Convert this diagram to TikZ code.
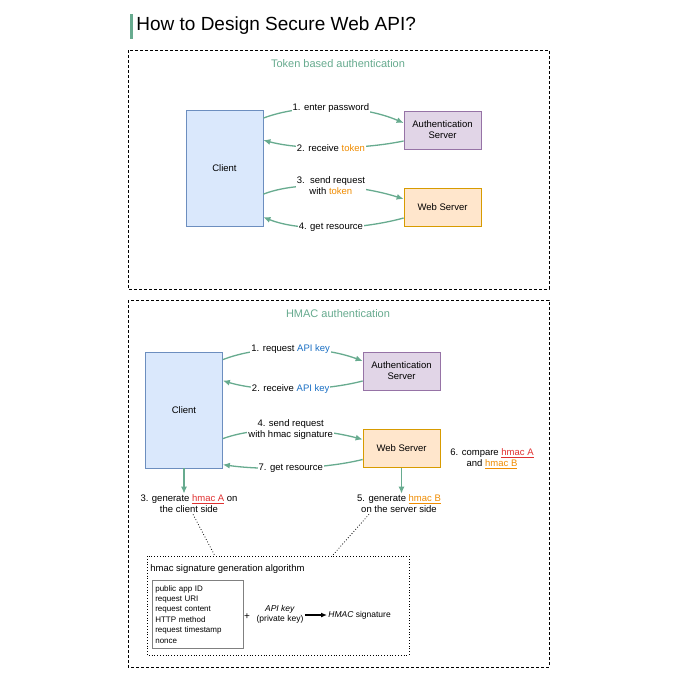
\documentclass[tikz,border=0pt]{standalone}
\usepackage{fontspec}
\setmainfont{Liberation Sans}
\usetikzlibrary{positioning,arrows.meta}
\definecolor{arrowgreen}{RGB}{103,171,143}
\definecolor{tokorange}{RGB}{240,140,0}
\definecolor{keyblue}{RGB}{26,111,196}
\definecolor{hmacred}{RGB}{224,48,48}
\tikzset{every picture/.style={line width=0.75pt},
  lbl/.style={font=\fontsize{9.5}{11}\selectfont, align=center, fill=white, inner sep=1pt},
  flow/.style={draw=arrowgreen, line width=1.3pt, -{Latex[length=7pt,width=6pt]}},
  client/.style={draw={rgb,255:red,108;green,142;blue,191}, fill={rgb,255:red,218;green,232;blue,252}, minimum width=77pt, minimum height=116pt, font=\fontsize{9.5}{11}\selectfont},
  authsrv/.style={draw={rgb,255:red,150;green,115;blue,166}, fill={rgb,255:red,225;green,213;blue,231}, minimum width=77pt, minimum height=38pt, align=center, font=\fontsize{9.5}{11}\selectfont},
  websrv/.style={draw={rgb,255:red,215;green,155;blue,0}, fill={rgb,255:red,255;green,230;blue,204}, minimum width=77pt, minimum height=38pt, font=\fontsize{9.5}{11}\selectfont},
  frame/.style={draw, dash pattern={on 3pt off 2pt}, line width=1pt}}
\newcommand{\tok}{\textcolor{tokorange}{token}}
\newcommand{\apik}{\textcolor{keyblue}{API key}}
\newcommand{\hA}{\textcolor{hmacred}{\underline{hmac A}}}
\newcommand{\hB}{\textcolor{tokorange}{\underline{hmac B}}}
\begin{document}
\begin{tikzpicture}[x=1pt,y=1pt,yscale=-1]
\useasboundingbox[fill=white] (0,0) rectangle (680,680);

%Title
\draw [arrowgreen, line width=3pt] (131,14) -- (131,39);
\node [anchor=west, font=\fontsize{19}{22}\selectfont, inner sep=0] (title) at (136,26) {How to Design Secure Web API?};

%Token based authentication
\draw [frame] (128,50) rectangle (549,289);
\node [text=arrowgreen, font=\fontsize{11}{13}\selectfont] (tktitle) at (338,64) {Token based authentication};
\node [client] (cl1) at (224.5,168.5) {Client};
\node [authsrv] (as1) at (442.5,130) {Authentication\\Server};
\node [websrv] (ws1) at (442.5,207) {Web Server};

\draw [flow] ([yshift=8]cl1.north east) .. controls (300,104) and (360,104) .. node[lbl]{1. enter password} ([yshift=-7]as1.west);
\draw [flow] ([yshift=11]as1.west) .. controls (360,150) and (300,150) .. node[lbl]{2. receive \tok} ([yshift=30]cl1.north east);
\draw [flow] ([yshift=84]cl1.north east) .. controls (300,180) and (360,185) .. node[lbl]{3.\ \ send request\\with \tok} ([yshift=-8]ws1.west);
\draw [flow] ([yshift=11]ws1.west) .. controls (360,230) and (300,232) .. node[lbl]{4. get resource} ([yshift=107]cl1.north east);

%HMAC authentication
\draw [frame] (128,300) rectangle (549,667);
\node [text=arrowgreen, font=\fontsize{11}{13}\selectfont] (hmtitle) at (338,314) {HMAC authentication};
\node [client] (cl2) at (184,410) {Client};
\node [authsrv] (as2) at (401.5,371) {Authentication\\Server};
\node [websrv] (ws2) at (401.5,448.5) {Web Server};

\draw [flow] ([yshift=8]cl2.north east) .. controls (260,345) and (320,345) .. node[lbl]{1. request \apik} ([yshift=-10]as2.west);
\draw [flow] ([yshift=10]as2.west) .. controls (320,392) and (260,392) .. node[lbl]{2. receive \apik} ([yshift=29]cl2.north east);
\draw [flow] ([yshift=87]cl2.north east) .. controls (260,425) and (320,428) .. node[lbl]{4. send request\\with hmac signature} ([yshift=-9]ws2.west);
\draw [flow] ([yshift=11]ws2.west) .. controls (320,470) and (260,470) .. node[lbl]{7. get resource} ([yshift=113]cl2.north east);
\node [lbl] (cmp) at (492,459) {6. compare \hA\\and \hB};

\node [lbl] (gen1) at (189,504) {3. generate \hA{} on\\the client side};
\node [lbl] (gen2) at (399,504) {5. generate \hB\\on the server side};
\draw [flow] (cl2.south) -- (gen1.north -| cl2.south);
\draw [flow] (ws2.south) -- (gen2.north -| ws2.south);

%hmac signature generation algorithm
\draw [dotted, line width=0.8pt] (147,556) rectangle (409,655);
\draw [dotted, line width=0.8pt] ([xshift=4]gen1.south) -- (215,556);
\draw [dotted, line width=0.8pt] ([xshift=-30]gen2.south) -- (332,556);
\node [anchor=west, font=\fontsize{9.5}{11}\selectfont, inner sep=0] (algtitle) at (150,569) {hmac signature generation algorithm};
\node [draw=gray, line width=0.6pt, anchor=north west, minimum width=91pt, minimum height=68pt, align=left, font=\fontsize{8}{10.4}\selectfont, inner sep=3pt, text width=85pt] (fields) at (152,580) {public app ID\\request URI\\request content\\HTTP method\\request timestamp\\nonce};
\node [font=\fontsize{10}{10}\selectfont, inner sep=0] (plus) at (247,617) {+};
\node [font=\fontsize{8.5}{10}\selectfont, align=center, inner sep=1pt] (key) at (280,614) {\textit{API key}\\(private key)};
\node [anchor=west, font=\fontsize{8.5}{10}\selectfont, inner sep=1pt] (sig) at (327,615) {\textit{HMAC} signature};
\draw [-{Latex[length=6pt,width=5pt]}, line width=1.2pt] (key.east |- sig.west) -- (sig.west);
\end{tikzpicture}
\end{document}
